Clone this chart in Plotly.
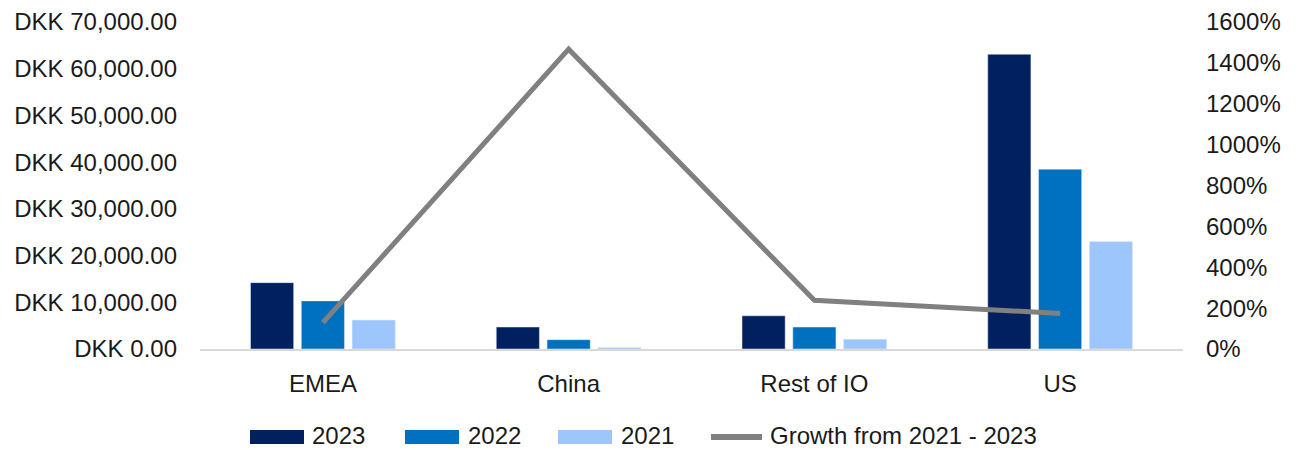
import plotly.graph_objects as go

categories = ["EMEA", "China", "Rest of IO", "US"]
values_2023 = [14200, 4700, 7100, 63100]
values_2022 = [10300, 2000, 4700, 38500]
values_2021 = [6200, 300, 2100, 23000]
growth_pct = [129, 1467, 238, 174]

series_names = ["2023", "2022", "2021", "Growth from 2021 - 2023"]
series_colors = ["#002060", "#0070c0", "#9dc7fc", "#808080"]

FONT = "Liberation Sans"
TXT = "#1a1a1a"

fig = go.Figure()
for name, vals, col in zip(series_names[:3], [values_2023, values_2022, values_2021], series_colors[:3]):
    fig.add_trace(go.Bar(name=name, x=categories, y=vals, marker_color=col, showlegend=False))
fig.add_trace(go.Scatter(name=series_names[3], x=categories, y=growth_pct,
                         mode="lines", line=dict(color=series_colors[3], width=5),
                         yaxis="y2", showlegend=False))

# custom legend (wide swatches as in the reference)
L, W, B, H = 200, 983, 101, 327
def px(x):
    return (x - L) / W
def py(y):
    return (450 - B - y) / H

swatch_x = [250, 405, 558]
text_x = [310, 466, 619, 768]
for sx, col in zip(swatch_x, series_colors[:3]):
    fig.add_shape(type="rect", xref="paper", yref="paper",
                  x0=px(sx), x1=px(sx + 54), y0=py(444), y1=py(430),
                  fillcolor=col, line=dict(width=0))
fig.add_shape(type="line", xref="paper", yref="paper",
              x0=px(711), x1=px(762), y0=py(437), y1=py(437),
              line=dict(color=series_colors[3], width=6))
for tx, name in zip(text_x, series_names):
    fig.add_annotation(xref="paper", yref="paper", x=px(tx), y=py(435),
                       xanchor="left", yanchor="middle", text=name, showarrow=False,
                       font=dict(size=24, color=TXT, family=FONT))

fig.update_layout(
    width=1300, height=450,
    margin=dict(l=L, r=1300 - L - W, t=450 - B - H, b=B, autoexpand=False),
    paper_bgcolor="white", plot_bgcolor="white",
    barmode="group", bargap=0.38, bargroupgap=0.15,
    font=dict(family=FONT, size=24, color=TXT),
    xaxis=dict(showgrid=False, showline=True, linecolor="#d9d9d9", linewidth=2,
               ticks="", ticklabelstandoff=12, automargin=False,
               tickfont=dict(size=24, color=TXT)),
    yaxis=dict(range=[0, 70000], dtick=10000, tickprefix="DKK ", tickformat=",.2f",
               showgrid=False, zeroline=False, ticks="", ticklabelstandoff=22,
               automargin=False, tickfont=dict(size=24, color=TXT)),
    yaxis2=dict(range=[0, 1600], dtick=200, ticksuffix="%", overlaying="y", side="right",
                showgrid=False, zeroline=False, ticks="", ticklabelstandoff=22,
                automargin=False, tickfont=dict(size=24, color=TXT)),
    showlegend=False,
)

fig.write_html("out.html", config={"displayModeBar": False},
               post_script="document.body.style.margin='0';document.body.style.overflow='hidden';")
